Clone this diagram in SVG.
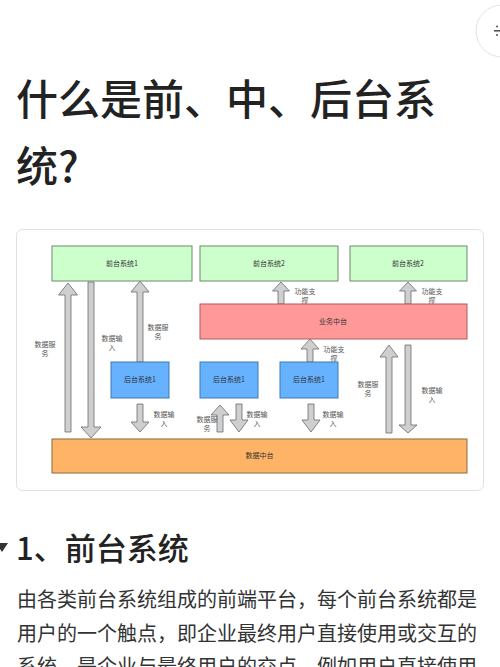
<svg xmlns="http://www.w3.org/2000/svg" width="500" height="667" viewBox="0 0 500 667">
<style>
.cjk{font-family:"Noto Sans CJK SC","Noto Sans",sans-serif}
.title{font-size:42px;font-weight:500;fill:#222}
.h2{font-size:31px;font-weight:500;fill:#222}
.body{font-size:20px;fill:#333}
.lbl{font-size:7px;fill:#333;text-anchor:middle}
.sm{font-size:7px;fill:#555;text-anchor:middle}
.arr{fill:#cfcfcf;stroke:#6a6a6a;stroke-width:0.8}
.green{fill:#ccffcc;stroke:#6f8a6f;stroke-width:1}
.red{fill:#ff9999;stroke:#b35c5c;stroke-width:1}
.blue{fill:#66b2ff;stroke:#3f78b5;stroke-width:1}
.orange{fill:#ffb366;stroke:#8c6a3c;stroke-width:1}
</style>
<rect width="500" height="667" fill="#ffffff"/>
<g id="topButton">
<circle cx="502" cy="31" r="26" fill="#ffffff" stroke="#e3e3e3" stroke-width="1"/>
<rect x="494" y="30" width="8" height="1.6" fill="#555"/>
<circle cx="497" cy="26.5" r="1" fill="#555"/>
<circle cx="497" cy="35" r="1" fill="#555"/>
</g>
<g id="title" class="cjk">
<text class="title" x="16" y="115">什么是前、中、后台系</text>
<text class="title" x="16" y="182">统?</text>
</g>
<g id="card">
<rect x="16.5" y="229.5" width="467" height="261" rx="6" fill="#ffffff" stroke="#e0e0e0" stroke-width="1"/>
</g>
<g id="connectors">
<path class="arr" d="M68,283 L77.5,295 L71,295 L71,432 L65,432 L65,295 L58.5,295 Z"/>
<path class="arr" d="M88,282 L94,282 L94,427 L101,427 L91,438 L81,427 L88,427 Z"/>
<path class="arr" d="M140,281 L149,292 L143,292 L143,362 L137,362 L137,292 L131,292 Z"/>
<path class="arr" d="M137,404 L143,404 L143,422 L149,422 L140,432 L131,422 L137,422 Z"/>
<path class="arr" d="M220,405 L229,415 L223,415 L223,432 L217,432 L217,415 L211,415 Z"/>
<path class="arr" d="M236,404 L242,404 L242,420 L248,420 L239,432 L230,420 L236,420 Z"/>
<path class="arr" d="M308,404 L314,404 L314,420 L320,420 L311,432 L302,420 L308,420 Z"/>
<path class="arr" d="M310,339 L319,349 L313,349 L313,362 L307,362 L307,349 L301,349 Z"/>
<path class="arr" d="M281,282 L289.5,291 L284,291 L284,304 L278,304 L278,291 L272.5,291 Z"/>
<path class="arr" d="M408,282 L416.5,291 L411,291 L411,304 L405,304 L405,291 L399.5,291 Z"/>
<path class="arr" d="M389,345 L398,357 L392,357 L392,433 L386,433 L386,357 L380,357 Z"/>
<path class="arr" d="M405,345 L411,345 L411,425 L417,425 L408,433 L399,425 L405,425 Z"/>
</g>
<g id="connectorLabels" class="cjk">
<text class="sm" x="45" y="347">数据服</text><text class="sm" x="45" y="356">务</text>
<text class="sm" x="112" y="341">数据输</text><text class="sm" x="112" y="350">入</text>
<text class="sm" x="158" y="330">数据服</text><text class="sm" x="158" y="339">务</text>
<text class="sm" x="164" y="417">数据输</text><text class="sm" x="164" y="426">入</text>
<text class="sm" x="207" y="422">数据服</text><text class="sm" x="207" y="431">务</text>
<text class="sm" x="257" y="417">数据输</text><text class="sm" x="257" y="426">入</text>
<text class="sm" x="333" y="417">数据输</text><text class="sm" x="333" y="426">入</text>
<text class="sm" x="334" y="352">功能支</text><text class="sm" x="334" y="361">撑</text>
<text class="sm" x="305" y="294">功能支</text><text class="sm" x="305" y="303">撑</text>
<text class="sm" x="432" y="294">功能支</text><text class="sm" x="432" y="303">撑</text>
<text class="sm" x="368" y="387">数据服</text><text class="sm" x="368" y="396">务</text>
<text class="sm" x="432" y="393">数据输</text><text class="sm" x="432" y="402">入</text>
</g>
<g id="front1"><rect class="green" x="52" y="246" width="140" height="35"/><text class="lbl cjk" x="122" y="266">前台系统1</text></g>
<g id="front2"><rect class="green" x="200" y="246" width="138" height="35"/><text class="lbl cjk" x="269" y="266">前台系统2</text></g>
<g id="front3"><rect class="green" x="350" y="246" width="117" height="35"/><text class="lbl cjk" x="408" y="266">前台系统2</text></g>
<g id="bizCenter"><rect class="red" x="200" y="304" width="267" height="35"/><text class="lbl cjk" x="333" y="324">业务中台</text></g>
<g id="back1"><rect class="blue" x="111" y="362" width="58" height="36"/><text class="lbl cjk" x="140" y="382">后台系统1</text></g>
<g id="back2"><rect class="blue" x="200" y="362" width="58" height="36"/><text class="lbl cjk" x="229" y="382">后台系统1</text></g>
<g id="back3"><rect class="blue" x="280" y="362" width="58" height="36"/><text class="lbl cjk" x="309" y="382">后台系统1</text></g>
<g id="dataCenter"><rect class="orange" x="52" y="439" width="415" height="34"/><text class="lbl cjk" x="259.5" y="458">数据中台</text></g>
<g id="section" class="cjk">
<polygon points="-4,543 8,543 2,552" fill="#333"/>
<text class="h2" x="16" y="560">1、前台系统</text>
<text class="body" x="17" y="607">由各类前台系统组成的前端平台，每个前台系统都是</text>
<text class="body" x="17" y="641">用户的一个触点，即企业最终用户直接使用或交互的</text>
<text class="body" x="17" y="674">系统，是企业与最终用户的交点，例如用户直接使用</text>
</g>
</svg>
